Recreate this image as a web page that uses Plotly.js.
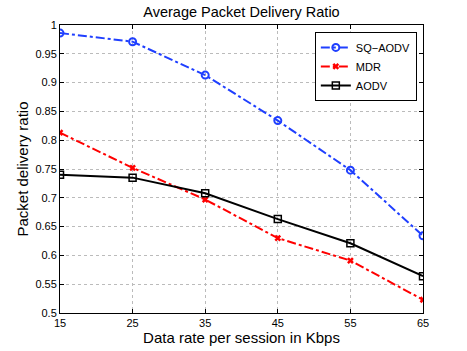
<!DOCTYPE html>
<html>
<head>
<meta charset="utf-8">
<script src="https://cdn.plot.ly/plotly-3.0.1.min.js"></script>
<style>
  html, body { margin: 0; padding: 0; background: #fff; }
  #chart { width: 467px; height: 351px; }
</style>
</head>
<body>
<div id="chart"></div>
<script>
// Data rate per session (Kbps)
const dataRates = [15, 25, 35, 45, 55, 65];

// Packet delivery ratio per protocol
const sqAodv = [0.986, 0.971, 0.913, 0.834, 0.748, 0.634];
const mdr = [0.813, 0.752, 0.697, 0.630, 0.591, 0.523];
const aodv = [0.740, 0.735, 0.708, 0.663, 0.621, 0.564];

const yTicks = [0.5, 0.55, 0.6, 0.65, 0.7, 0.75, 0.8, 0.85, 0.9, 0.95, 1];
const yTickText = ['0.5', '0.55', '0.6', '0.65', '0.7', '0.75', '0.8', '0.85', '0.9', '0.95', '1'];

const traces = [
    {
        x: dataRates,
        y: sqAodv,
        name: 'SQ\u2212AODV',
        type: 'scatter',
        mode: 'lines+markers',
        line: { color: '#1f3fff', width: 2, dash: 'dashdot' },
        marker: { symbol: 'circle-open', size: 7, color: '#1f3fff', line: { width: 2 } }
    },
    {
        x: dataRates,
        y: mdr,
        name: 'MDR',
        type: 'scatter',
        mode: 'lines+markers',
        line: { color: '#ff0000', width: 2, dash: 'dashdot' },
        marker: { symbol: 'x-thin-open', size: 5, color: '#ff0000', line: { width: 2.5, color: '#ff0000' } }
    },
    {
        x: dataRates,
        y: aodv,
        name: 'AODV',
        type: 'scatter',
        mode: 'lines+markers',
        line: { color: '#000000', width: 2 },
        marker: { symbol: 'square-open', size: 7, color: '#000000', line: { width: 1.5 } }
    }
];

const layout = {
    width: 467,
    height: 351,
    title: {
        text: 'Average Packet Delivery Ratio',
        font: { family: 'Liberation Sans, Arial, sans-serif', size: 14.5, color: '#000' },
        xref: 'paper',
        x: 0.5,
        xanchor: 'center',
        y: 0.965,
        yanchor: 'middle'
    },
    xaxis: {
        title: { text: 'Data rate per session in Kbps', font: { size: 15, color: '#000' }, standoff: 1 },
        range: [15, 65],
        tickvals: dataRates,
        ticks: 'inside',
        ticklen: 4,
        tickcolor: '#000',
        showline: true,
        linecolor: '#000',
        linewidth: 1,
        mirror: 'ticks',
        showgrid: true,
        gridcolor: '#bbbbbb',
        griddash: 'dot',
        gridwidth: 1,
        zeroline: false,
        tickfont: { size: 11, color: '#000' }
    },
    yaxis: {
        title: { text: 'Packet delivery ratio', font: { size: 15, color: '#000' }, standoff: 3 },
        range: [0.5, 1],
        tickvals: yTicks,
        ticktext: yTickText,
        ticks: 'inside',
        ticklen: 4,
        tickcolor: '#000',
        showline: true,
        linecolor: '#000',
        linewidth: 1,
        mirror: 'ticks',
        showgrid: true,
        gridcolor: '#bbbbbb',
        griddash: 'dot',
        gridwidth: 1,
        zeroline: false,
        tickfont: { size: 11, color: '#000' }
    },
    font: { family: 'Liberation Sans, Arial, sans-serif', color: '#000' },
    paper_bgcolor: '#ffffff',
    plot_bgcolor: '#ffffff',
    showlegend: true,
    legend: {
        x: 0.983,
        xanchor: 'right',
        y: 0.976,
        yanchor: 'top',
        bgcolor: '#ffffff',
        bordercolor: '#000000',
        borderwidth: 1,
        font: { size: 11, color: '#000' },
        tracegroupgap: 0,
        itemwidth: 30
    },
    margin: { l: 60, r: 44, t: 25, b: 38 }
};

const config = { staticPlot: true, displayModeBar: false };

Plotly.newPlot('chart', traces, layout, config);
</script>
</body>
</html>
